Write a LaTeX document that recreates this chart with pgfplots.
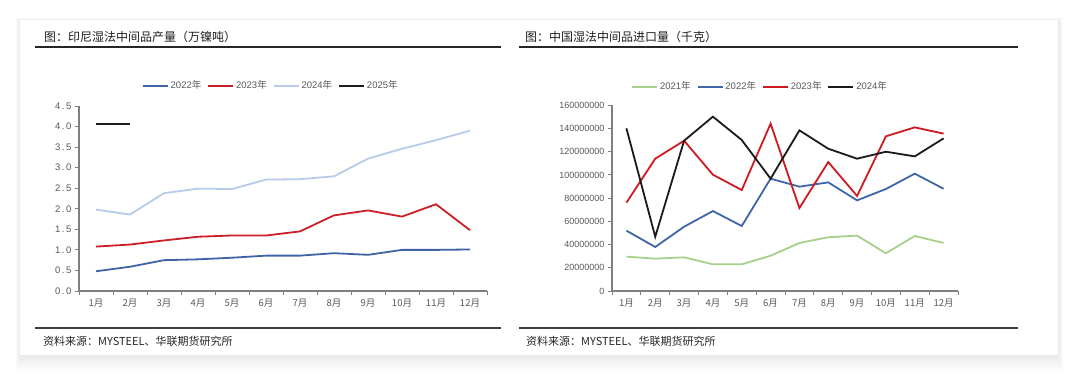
\documentclass[border=0pt]{standalone}
\usepackage{fontspec}
\usepackage{pgfplots}
\pgfplotsset{compat=1.18}
\setmainfont{Liberation Sans}
\newfontfamily\cjk{Noto Sans CJK SC}

\definecolor{c22}{HTML}{3F64A6}
\definecolor{c23}{HTML}{CC1F27}
\definecolor{c24}{HTML}{B7CBEA}
\definecolor{c25}{HTML}{1E1E1E}
\definecolor{g21}{HTML}{A8D08D}
\definecolor{b22}{HTML}{3E66A8}
\definecolor{r23}{HTML}{CF1A22}
\definecolor{k24}{HTML}{1A1A1A}
\definecolor{axisgray}{HTML}{7F7F7F}
\definecolor{txtgray}{HTML}{595959}

\pgfplotsset{
  mystyle/.style={
    scale only axis,
    axis x line=bottom, axis y line=left,
    axis line style={axisgray, line width=1.2bp, -},
    tick style={axisgray, line width=1bp},
    tick align=outside,
    major tick length=4bp,
    xmin=0.5, xmax=12.5,
    xtick={0.5,1.5,2.5,3.5,4.5,5.5,6.5,7.5,8.5,9.5,10.5,11.5,12.5},
    x tick label as interval,
    xticklabels={1月,2月,3月,4月,5月,6月,7月,8月,9月,10月,11月,12月},
    xticklabel style={font=\cjk\fontsize{9.5bp}{11bp}\selectfont, text=txtgray},
    yticklabel style={font=\fontsize{9.5bp}{11bp}\selectfont, text=txtgray},
    scaled y ticks=false,
    every axis plot/.append style={line width=1.8bp, mark=none},
    clip=false,
    legend columns=4,
    legend style={draw=none, fill=none, anchor=center,
      font=\fontsize{9.5bp}{11bp}\selectfont, text=txtgray,
      /tikz/every even column/.append style={column sep=4bp},
      inner sep=0pt},
    legend image code/.code={\draw[##1] (0bp,0bp) -- (25bp,0bp);},
  }
}

\begin{document}
\begin{tikzpicture}
% background and card
\fill[white] (0bp,0bp) rectangle (1080bp,-377bp);
\begin{scope}[x=1bp,y=1bp]
\foreach \i in {1,...,10} {
  \fill[black, opacity=0.008] ({20-0.5*\i},{-20+0.2*\i}) rectangle ({1058+0.5*\i},{-355-1.6*\i});
}
\end{scope}
\fill[white] (20bp,-20bp) rectangle (1058bp,-355bp);

% titles
\node[anchor=west, inner sep=0pt, font=\cjk\fontsize{12bp}{14bp}\selectfont, text=black!88] at (44bp,-37bp) {图：印尼湿法中间品产量（万镍吨）};
\node[anchor=west, inner sep=0pt, font=\cjk\fontsize{12bp}{14bp}\selectfont, text=black!88] at (525bp,-37bp) {图：中国湿法中间品进口量（千克）};
\draw[black!85, line width=1.3bp] (35bp,-47bp) -- (501bp,-47bp);
\draw[black!85, line width=1.3bp] (519bp,-47bp) -- (1018bp,-47bp);

% footers
\draw[black!75, line width=1.3bp] (35bp,-328bp) -- (501bp,-328bp);
\draw[black!75, line width=1.3bp] (519bp,-328bp) -- (1018bp,-328bp);
\node[anchor=west, inner sep=0pt, font=\cjk\fontsize{11bp}{13bp}\selectfont, text=black!85] at (43bp,-341bp) {资料来源：MYSTEEL、华联期货研究所};
\node[anchor=west, inner sep=0pt, font=\cjk\fontsize{11bp}{13bp}\selectfont, text=black!85] at (526bp,-341bp) {资料来源：MYSTEEL、华联期货研究所};

% left chart
\begin{axis}[mystyle,
  at={(79bp,-291bp)}, anchor=south west,
  width=408bp, height=185bp,
  ymin=0, ymax=4.5,
  ytick={0,0.5,1,1.5,2,2.5,3,3.5,4,4.5},
  yticklabels={0\,.\,0,0\,.\,5,1\,.\,0,1\,.\,5,2\,.\,0,2\,.\,5,3\,.\,0,3\,.\,5,4\,.\,0,4\,.\,5},
  legend style={at={(0.47,1.11)}},
]
\addplot[c22] coordinates {(1,0.48) (2,0.59) (3,0.75) (4,0.77) (5,0.81) (6,0.86) (7,0.86) (8,0.92) (9,0.88) (10,1.00) (11,1.00) (12,1.01)};
\addlegendentry{2022\cjk 年}
\addplot[c23] coordinates {(1,1.08) (2,1.13) (3,1.23) (4,1.32) (5,1.35) (6,1.35) (7,1.45) (8,1.84) (9,1.96) (10,1.81) (11,2.11) (12,1.48)};
\addlegendentry{2023\cjk 年}
\addplot[c24] coordinates {(1,1.98) (2,1.86) (3,2.38) (4,2.49) (5,2.48) (6,2.71) (7,2.72) (8,2.79) (9,3.22) (10,3.46) (11,3.67) (12,3.90)};
\addlegendentry{2024\cjk 年}
\addplot[c25] coordinates {(1,4.07) (2,4.07)};
\addlegendentry{2025\cjk 年}
\end{axis}

% right chart
\begin{axis}[mystyle,
  at={(612bp,-291bp)}, anchor=south west,
  width=346bp, height=185.7bp,
  ymin=0, ymax=160000000,
  ytick={0,20000000,40000000,60000000,80000000,100000000,120000000,140000000,160000000},
  yticklabels={0,20000000,40000000,60000000,80000000,100000000,120000000,140000000,160000000},
  yticklabel style={font=\fontsize{9bp}{11bp}\selectfont},
  legend style={at={(0.428,1.10)}},
]
\addplot[g21] coordinates {(1,29600000) (2,27900000) (3,29000000) (4,23000000) (5,23000000) (6,30400000) (7,41400000) (8,46300000) (9,47700000) (10,32500000) (11,47400000) (12,41400000)};
\addlegendentry{2021\cjk 年}
\addplot[b22] coordinates {(1,52000000) (2,37900000) (3,55400000) (4,68900000) (5,56000000) (6,96800000) (7,89900000) (8,93600000) (9,78100000) (10,87900000) (11,101100000) (12,88100000)};
\addlegendentry{2022\cjk 年}
\addplot[r23] coordinates {(1,76100000) (2,114000000) (3,129500000) (4,100200000) (5,87000000) (6,144200000) (7,71500000) (8,111100000) (9,81900000) (10,133300000) (11,141000000) (12,135600000)};
\addlegendentry{2023\cjk 年}
\addplot[k24] coordinates {(1,140200000) (2,46800000) (3,129500000) (4,150200000) (5,130100000) (6,96800000) (7,138400000) (8,122600000) (9,114000000) (10,120000000) (11,116000000) (12,131500000)};
\addlegendentry{2024\cjk 年}
\end{axis}
\end{tikzpicture}
\end{document}
